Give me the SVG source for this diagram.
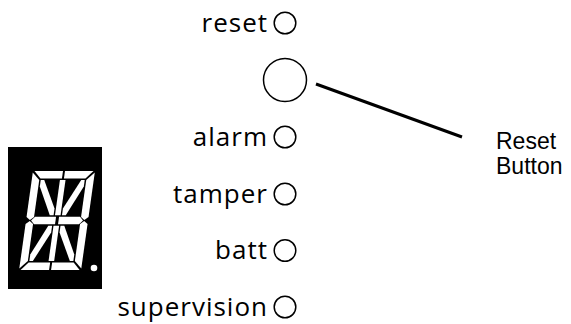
<svg xmlns="http://www.w3.org/2000/svg" width="571" height="324" viewBox="0 0 571 324">
<style>
.lbl{font-family:"Open Sans","DejaVu Sans",sans-serif;font-size:26px;letter-spacing:1px;fill:#000;text-anchor:end}
.led{fill:none;stroke:#000;stroke-width:1.5}
.seg{fill:#fff}
.cap{font-family:"Liberation Sans",Arial,sans-serif;font-size:23px;fill:#000}
</style>
<rect width="571" height="324" fill="#fff"/>
<g id="display">
<rect x="8" y="147" width="94" height="142" fill="#000"/>
<g transform="translate(33,171) skewX(-8)" class="seg">
<polygon points="1.5,0 30,0 30,7.5 8.5,7.5"/>
<polygon points="32,0 60.5,0 53.5,7.5 32,7.5"/>
<polygon points="0,1.5 7.5,9 7.5,46 3.8,49 0,46"/>
<polygon points="62,1.5 62,46 58.2,49 54.5,46 54.5,9"/>
<polygon points="0,53 3.8,50 7.5,53 7.5,90 0,97.5"/>
<polygon points="54.5,53 58.2,50 62,53 62,97.5 54.5,90"/>
<polygon points="1.5,99 8.5,91.5 30,91.5 30,99"/>
<polygon points="32,99 32,91.5 53.5,91.5 60.5,99"/>
<polygon points="5,49.5 8.5,45.8 29.5,45.8 29.5,53.2 8.5,53.2"/>
<polygon points="32.5,45.8 53.5,45.8 57,49.5 53.5,53.2 32.5,53.2"/>
<polygon points="28.2,9 33.8,9 33.8,44.3 28.2,44.3"/>
<polygon points="28.2,54.7 33.8,54.7 33.8,90 28.2,90"/>
<polygon points="9,9 12.5,9 26.8,37.5 26.8,44.3 23,44.3 9,15.5"/>
<polygon points="53,9 49.5,9 35.2,37.5 35.2,44.3 39,44.3 53,15.5"/>
<polygon points="26.8,54.7 26.8,61.5 12.5,90 9,90 9,83.5 23,54.7"/>
<polygon points="35.2,54.7 39,54.7 53,83.5 53,90 49.5,90 35.2,61.5"/>
</g>
<circle cx="94" cy="268" r="3.3" fill="#fff"/>
</g>
<g id="reset">
<text class="lbl" x="268" y="31.5">reset</text>
<circle class="led" cx="285" cy="23" r="10.8"/>
</g>
<g id="button">
<circle class="led" cx="285" cy="80" r="21.5"/>
</g>
<g id="alarm">
<text class="lbl" x="268" y="145.5">alarm</text>
<circle class="led" cx="285" cy="137" r="10.8"/>
</g>
<g id="tamper">
<text class="lbl" x="268" y="202.5">tamper</text>
<circle class="led" cx="285" cy="194" r="10.8"/>
</g>
<g id="batt">
<text class="lbl" x="268" y="259">batt</text>
<circle class="led" cx="285" cy="250.5" r="10.8"/>
</g>
<g id="supervision">
<text class="lbl" x="268" y="315.5">supervision</text>
<circle class="led" cx="285" cy="307" r="10.8"/>
</g>
<g id="connectors">
<line x1="316" y1="84" x2="462" y2="137" stroke="#000" stroke-width="3"/>
</g>
<g id="caption">
<text class="cap" x="496" y="149">Reset</text>
<text class="cap" x="496" y="174">Button</text>
</g>
</svg>
